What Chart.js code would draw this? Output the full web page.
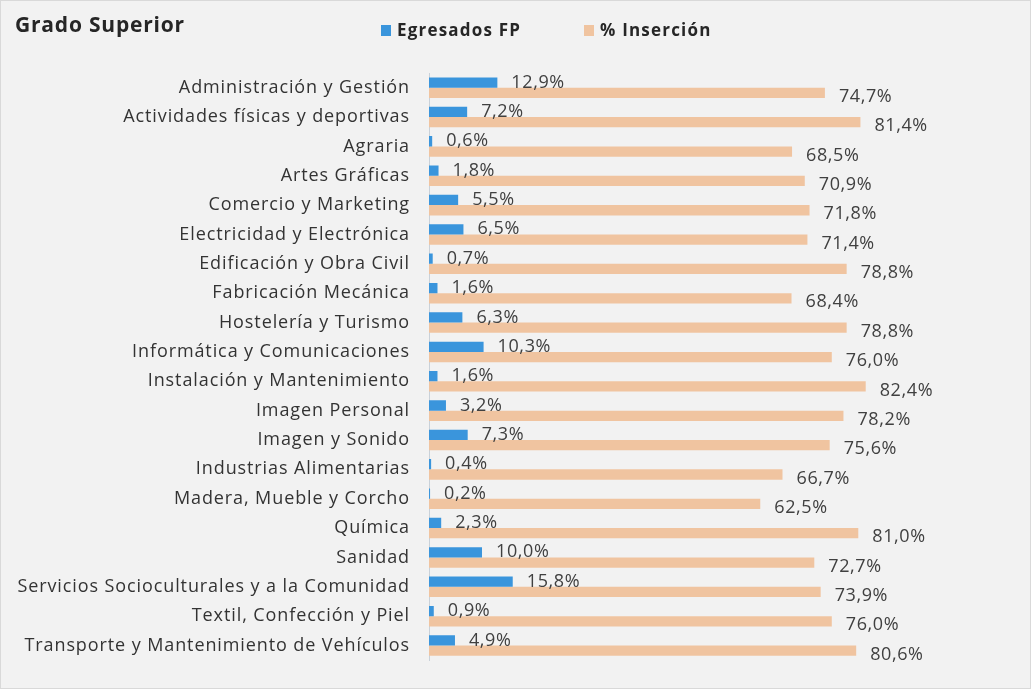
<!DOCTYPE html>
<html>
<head>
<meta charset="utf-8">
<script src="https://cdn.jsdelivr.net/npm/chart.js@4"></script>
<style>
  body { margin: 0; background: #fff; }
  #wrap { position: relative; width: 1031px; height: 689px; background: #f2f2f2; box-sizing: border-box; border: 1px solid #d9d9d9; }
  #title { position: absolute; left: 14px; top: 9px; font: bold 21px "Open Sans", sans-serif; letter-spacing: 0.8px; color: #262626; }
  #legend { position: absolute; left: 380px; top: 17px; font: bold 17px "Open Sans", sans-serif; letter-spacing: 1.2px; color: #262626; white-space: nowrap; }
  #legend span.box { display: inline-block; width: 10px; height: 11px; margin-right: 6px; }
  #legend span.item { position: absolute; top: 0; }
  canvas { position: absolute; left: 0; top: 0; }
</style>
</head>
<body>
<div id="wrap">
  <canvas id="chart" width="1031" height="689"></canvas>
  <div id="title">Grado Superior</div>
  <div id="legend">
    <span class="item" style="left:0"><span class="box" style="background:#3a95dc"></span>Egresados FP</span>
    <span class="item" style="left:203px"><span class="box" style="background:#f0c4a0"></span>% Inserción</span>
  </div>
</div>
<script>
const categories = [
  'Administración y Gestión',
  'Actividades físicas y deportivas',
  'Agraria',
  'Artes Gráficas',
  'Comercio y Marketing',
  'Electricidad y Electrónica',
  'Edificación y Obra Civil',
  'Fabricación Mecánica',
  'Hostelería y Turismo',
  'Informática y Comunicaciones',
  'Instalación y Mantenimiento',
  'Imagen Personal',
  'Imagen y Sonido',
  'Industrias Alimentarias',
  'Madera, Mueble y Corcho',
  'Química',
  'Sanidad',
  'Servicios Socioculturales y a la Comunidad',
  'Textil, Confección y Piel',
  'Transporte y Mantenimiento de Vehículos'
];
const egresados = [12.9, 7.2, 0.6, 1.8, 5.5, 6.5, 0.7, 1.6, 6.3, 10.3, 1.6, 3.2, 7.3, 0.4, 0.2, 2.3, 10.0, 15.8, 0.9, 4.9];
const insercion = [74.7, 81.4, 68.5, 70.9, 71.8, 71.4, 78.8, 68.4, 78.8, 76.0, 82.4, 78.2, 75.6, 66.7, 62.5, 81.0, 72.7, 73.9, 76.0, 80.6];

const fmt = v => v.toFixed(1).replace('.', ',') + '%';

// a little extra spacing so the text comes closer to the original Calibri width
const spacing = {
  id: 'spacing',
  beforeDraw(chart) { chart.ctx.letterSpacing = '0.9px'; }
};

// value labels next to the bar ends
const valueLabels = {
  id: 'valueLabels',
  afterDatasetsDraw(chart) {
    const ctx = chart.ctx;
    ctx.save();
    ctx.letterSpacing = '0.6px';
    ctx.font = '18px "Open Sans", sans-serif';
    ctx.fillStyle = '#404040';
    ctx.textAlign = 'left';
    ctx.textBaseline = 'middle';
    chart.data.datasets.forEach((ds, i) => {
      chart.getDatasetMeta(i).data.forEach((bar, j) => {
        const dy = i === 0 ? 0 : 4;
        ctx.fillText(fmt(ds.data[j]), bar.x + 14, bar.y + dy);
      });
    });
    ctx.restore();
  }
};

new Chart(document.getElementById('chart'), {
  type: 'bar',
  data: {
    labels: categories,
    datasets: [
      { label: 'Egresados FP', data: egresados, backgroundColor: '#3a95dc' },
      { label: '% Inserción', data: insercion, backgroundColor: '#f0c4a0' }
    ]
  },
  options: {
    indexAxis: 'y',
    responsive: false,
    animation: false,
    layout: { padding: { top: 72, bottom: 17, right: 73, left: 0 } },
    datasets: { bar: { categoryPercentage: 0.7, barPercentage: 1.0 } },
    plugins: { legend: { display: false }, title: { display: false }, tooltip: { enabled: false } },
    scales: {
      x: { min: 0, max: 100, display: false, grid: { display: false } },
      y: {
        afterFit(scale) { scale.width = 428; },
        grid: { display: false, drawTicks: false },
        border: { display: true, color: '#c9d1d9', width: 1 },
        ticks: { padding: 19, color: '#333', font: { family: 'Open Sans', size: 18 } }
      }
    }
  },
  plugins: [spacing, valueLabels]
});
</script>
</body>
</html>
